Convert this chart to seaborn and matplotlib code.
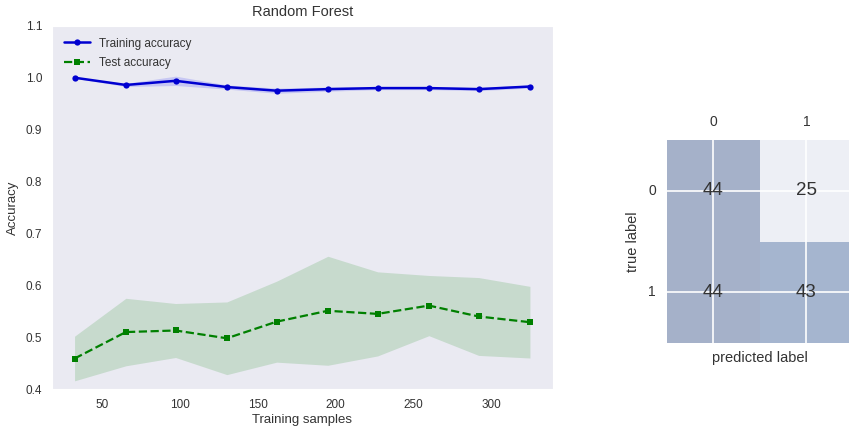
import numpy as np
import pandas as pd
import matplotlib
matplotlib.use("Agg")
import matplotlib.pyplot as plt
import seaborn as sns

# ---- data ----
train_sizes = [32, 65, 97, 130, 162, 195, 227, 260, 292, 325]
train_mean = [1.000, 0.986, 0.994, 0.982, 0.975, 0.978, 0.980, 0.980, 0.978, 0.983]
train_std = [0.001, 0.003, 0.009, 0.004, 0.005, 0.004, 0.003, 0.003, 0.003, 0.003]
test_mean = [0.459, 0.510, 0.513, 0.498, 0.530, 0.551, 0.545, 0.561, 0.540, 0.529]
test_std = [0.043, 0.065, 0.052, 0.070, 0.078, 0.105, 0.081, 0.058, 0.075, 0.069]
cm_labels = ["0", "1"]
confmat = [[44, 25], [44, 43]]

sns.set_style("dark")
plt.rcParams["font.family"] = ["Liberation Sans", "DejaVu Sans"]
text_c = "#333333"

fig = plt.figure(figsize=(8.49, 4.30), dpi=100)
ax = fig.add_axes([0.061, 0.095, 0.590, 0.845])

tm = np.array(train_mean); ts = np.array(train_std)
vm = np.array(test_mean); vs = np.array(test_std)

sns.lineplot(x=train_sizes, y=train_mean, ax=ax, color="#0000d0", marker="o",
             markersize=4.5, markeredgewidth=0, linewidth=1.8, label="Training accuracy")
ax.fill_between(train_sizes, tm + ts, tm - ts, color="blue", alpha=0.15, linewidth=0)
sns.lineplot(x=train_sizes, y=test_mean, ax=ax, color="green", marker="s",
             markersize=4.5, markeredgewidth=0, linewidth=1.6, label="Test accuracy")
ax.lines[-1].set_linestyle("--")
ax.fill_between(train_sizes, vm + vs, vm - vs, color="green", alpha=0.15, linewidth=0)

ax.set_ylim(0.4, 1.1)
ax.set_xlim(17.35, 339.65)
ax.set_xticks([50, 100, 150, 200, 250, 300])
ax.set_yticks([0.4, 0.5, 0.6, 0.7, 0.8, 0.9, 1.0, 1.1])
ax.tick_params(labelsize=8.5, colors=text_c)
ax.set_xlabel("Training samples", fontsize=9.5, color=text_c, labelpad=2)
ax.set_ylabel("Accuracy", fontsize=9.5, color=text_c, labelpad=5)
ax.set_title("Random Forest", fontsize=10.5, color=text_c, pad=7)
leg = ax.legend(loc="upper left", frameon=False, fontsize=8.5, handlelength=2.2,
                numpoints=1, borderaxespad=0.6, labelspacing=0.6)
leg.get_lines()[1].set_linestyle("--")
for t in leg.get_texts():
    t.set_color(text_c)

# ---- confusion matrix ----
ax2 = fig.add_axes([0.7856, 0.2023, 0.2191, 0.4721])
sns.heatmap(np.array(confmat), ax=ax2, cmap="Blues", alpha=0.3, annot=True, fmt="d",
            cbar=False, annot_kws={"color": text_c, "fontsize": 13.5},
            xticklabels=cm_labels, yticklabels=cm_labels)
ax2.xaxis.tick_top()
ax2.xaxis.set_label_position("bottom")
ax2.set_xlabel("predicted label", fontsize=10.5, color=text_c, labelpad=6)
ax2.set_ylabel("true label", fontsize=10.5, color=text_c, labelpad=6)
ax2.tick_params(labelsize=10, colors=text_c, length=0, pad=8)
plt.setp(ax2.get_yticklabels(), rotation=0)
ax2.set_axisbelow(False)
ax2.grid(True, color="white", linewidth=1.2)
for s in ax2.spines.values():
    s.set_visible(False)

fig.savefig("out.png", dpi=100)
